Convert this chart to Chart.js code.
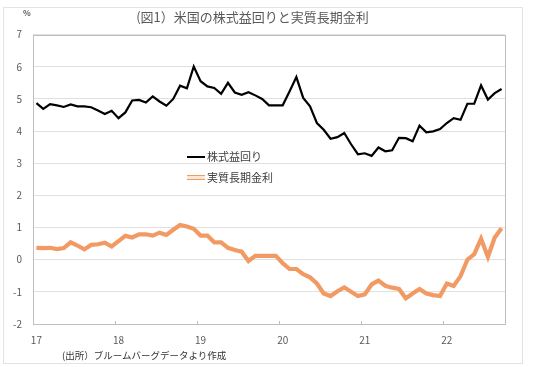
<!DOCTYPE html>
<html>
<head>
<meta charset="utf-8">
<script src="https://cdn.jsdelivr.net/npm/chart.js@4/dist/chart.umd.min.js"></script>
<style>
  body { margin: 0; background: #fff; font-family: "Noto Sans CJK JP", sans-serif; }
  #wrap { position: relative; width: 534px; height: 367px; }
  #frame { position: absolute; left: 3px; top: 7px; width: 518px; height: 355px; border: 1px solid #e3e3e3; }
  canvas { position: absolute; left: 0; top: 0; }
  .txt { position: absolute; white-space: nowrap; line-height: 1; }
  .sw { position: absolute; width: 18px; }
</style>
</head>
<body>
<div id="wrap">
  <div id="frame"></div>
  <canvas id="yieldChart" width="534" height="367"></canvas>
  <div class="txt" style="left:23px; top:9px; font-size:8px; font-weight:bold; color:#595959;">%</div>
  <div class="sw" style="left:187px; top:155.5px; height:2.5px; background:#000;"></div>
  <div class="txt" style="left:207px; top:151px; font-size:11px; color:#404040;">株式益回り</div>
  <div class="sw" style="left:187px; top:175px; height:4.5px; box-sizing:border-box; background:#fde6d6; border-top:1.5px solid #f29a64; border-bottom:1.5px solid #f29a64;"></div>
  <div class="txt" style="left:207px; top:171.5px; font-size:11px; color:#404040;">実質長期金利</div>
  <div class="txt" style="left:62px; top:351px; font-size:9.5px; color:#333;">(出所）ブルームバーグデータより作成</div>
</div>
<script>
// monthly data, Jan 2017 - Sep 2022
var yearLabels = ['17', '18', '19', '20', '21', '22'];
var earningsYield = [
    4.87, 4.69, 4.84, 4.80, 4.75, 4.83, 4.77, 4.77, 4.74, 4.64, 4.53, 4.63,
    4.40, 4.58, 4.95, 4.97, 4.89, 5.08, 4.92, 4.79, 5.00, 5.41, 5.33, 6.01,
    5.55, 5.39, 5.34, 5.16, 5.50, 5.20, 5.13, 5.21, 5.11, 5.00, 4.80, 4.80,
    4.80, 5.23, 5.68, 5.03, 4.77, 4.25, 4.04, 3.76, 3.81, 3.94, 3.59, 3.28,
    3.31, 3.23, 3.49, 3.37, 3.40, 3.79, 3.78, 3.68, 4.17, 3.96, 3.99, 4.06,
    4.25, 4.40, 4.35, 4.85, 4.85, 5.42, 4.98, 5.18, 5.31
];
var realRate = [
    0.37, 0.36, 0.37, 0.33, 0.36, 0.54, 0.44, 0.32, 0.46, 0.48, 0.53, 0.41,
    0.58, 0.74, 0.69, 0.79, 0.79, 0.75, 0.84, 0.77, 0.93, 1.08, 1.03, 0.96,
    0.75, 0.75, 0.54, 0.54, 0.37, 0.30, 0.25, -0.04, 0.12, 0.12, 0.12, 0.12,
    -0.11, -0.29, -0.29, -0.45, -0.55, -0.74, -1.05, -1.13, -0.98, -0.86, -1.00, -1.13,
    -1.08, -0.77, -0.65, -0.81, -0.87, -0.91, -1.20, -1.05, -0.91, -1.05, -1.10, -1.13,
    -0.74, -0.82, -0.51, 0.00, 0.17, 0.65, 0.09, 0.69, 0.98
];

var months = [];
for (var i = 0; i < earningsYield.length; i++) {
    months.push(yearLabels[Math.floor(i / 12)] + '-' + (i % 12 + 1));
}

// plot frame + small inward tick marks on the x axis
var framePlugin = {
    id: 'frame',
    afterDatasetsDraw: function (chart) {
        var a = chart.chartArea, c = chart.ctx, xs = chart.scales.x;
        c.save();
        c.strokeStyle = '#bfbfbf';
        c.lineWidth = 1;
        c.strokeRect(Math.round(a.left) + 0.5, Math.round(a.top) + 0.5,
            Math.round(a.right - a.left), Math.round(a.bottom - a.top));
        c.beginPath();
        for (var i = 12; i < months.length; i += 12) {
            var px = Math.round(xs.getPixelForValue(i) - (xs.getPixelForValue(1) - xs.getPixelForValue(0)) / 2) + 0.5;
            c.moveTo(px, a.bottom);
            c.lineTo(px, a.bottom - 3);
        }
        c.stroke();
        c.restore();
    }
};

var ctx = document.getElementById('yieldChart').getContext('2d');
new Chart(ctx, {
    type: 'line',
    data: {
        labels: months,
        datasets: [
            {
                label: '株式益回り',
                data: earningsYield,
                borderColor: '#000',
                borderWidth: 2.2,
                pointRadius: 0,
                tension: 0
            },
            {
                label: '実質長期金利',
                data: realRate,
                borderColor: '#f29a64',
                borderWidth: 4.2,
                pointRadius: 0,
                tension: 0
            },
            {
                label: '実質長期金利 inner',
                data: realRate,
                borderColor: '#fde6d6',
                borderWidth: 1.5,
                pointRadius: 0,
                tension: 0
            }
        ]
    },
    options: {
        responsive: false,
        animation: false,
        layout: { padding: { left: 0, right: 29, top: 0, bottom: 0 } },
        scales: {
            x: {
                offset: true,
                afterFit: function (scale) { scale.height = 43; },
                grid: { display: false, drawTicks: false },
                border: { display: false },
                ticks: {
                    autoSkip: false,
                    maxRotation: 0,
                    padding: 10,
                    color: '#595959',
                    font: { size: 10, family: '"Noto Sans CJK JP", sans-serif' },
                    callback: function (value, index) {
                        return index % 12 === 0 ? yearLabels[index / 12] : null;
                    }
                }
            },
            y: {
                min: -2,
                max: 7,
                afterFit: function (scale) { scale.width = 33; },
                grid: { color: '#e0e0e0', drawTicks: false },
                border: { display: false },
                ticks: {
                    stepSize: 1,
                    padding: 11,
                    color: '#595959',
                    font: { size: 10, family: '"Noto Sans CJK JP", sans-serif' }
                }
            }
        },
        plugins: {
            legend: { display: false },
            tooltip: { enabled: false },
            title: {
                display: true,
                text: '(図1）米国の株式益回りと実質長期金利',
                color: '#595959',
                font: { size: 13, weight: 'normal', family: '"Noto Sans CJK JP", sans-serif' },
                padding: { top: 9, bottom: 10 }
            }
        }
    },
    plugins: [framePlugin]
});
</script>
</body>
</html>
